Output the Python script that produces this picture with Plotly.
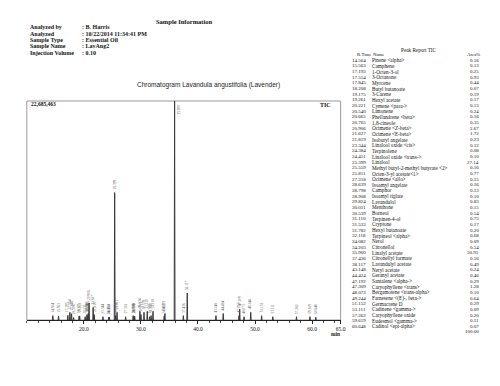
import plotly.graph_objects as go

W, H = 500, 386

# ---- data ----
rtimes = [14.564, 15.563, 17.193, 17.554, 17.845, 18.208, 19.175, 19.261, 20.221, 20.540,
          20.665, 20.765, 20.906, 21.627, 21.819, 23.344, 24.384, 24.451, 25.399, 25.559,
          25.811, 27.318, 28.639, 28.798, 28.908, 29.824, 30.011, 30.539, 31.110, 31.533,
          31.782, 32.118, 34.082, 34.203, 35.900, 37.436, 38.117, 43.148, 44.424, 47.192,
          47.309, 48.073, 49.244, 51.152, 53.111, 57.262, 59.619, 60.648]
names = ["Pinene <alpha>", "Camphene", "1-Octen-3-ol", "3-Octanone", "Myrcene", "Butyl butanoate",
         "3-Carene", "Hexyl acetate", "Cymene <para->", "Limonene", "Phellandrene <beta>", "1,8-cineole",
         "Ocimene <Z-beta>", "Ocimene <E-beta>", "Isobutyl angelate", "Linalool oxide <cis>", "Terpinolene",
         "Linalool oxide <trans->", "Linalool", "Methyl butyl-2-methyl butyrate <2>", "Octen-3-yl acetate<1>",
         "Ocimene <allo>", "Isoamyl angelate", "Camphor", "Isoamyl tiglate", "Lavandulol", "Menthone",
         "Borneol", "Terpinen-4-ol", "Cryptone", "Hexyl butanoate", "Terpineol <alpha>", "Nerol",
         "Citronellol", "Linalyl acetate", "Citronellyl formate", "Lavandulyl acetate", "Neryl acetate",
         "Geranyl acetate", "Santalene <alpha->", "Caryophyllene <trans>", "Bergamotene <trans-alpha>",
         "Farnesene <(E)-, beta->", "Germacrene D", "Cadinene <gamma->", "Caryophyllene oxide",
         "Eudesmol <gamma->", "Cadinol <epi-alpha>"]
area_pct = ["0.16", "0.13", "0.25", "0.93", "0.44", "0.07", "0.19", "0.17", "0.13", "0.24",
            "0.16", "0.35", "2.67", "1.72", "0.23", "0.12", "0.08", "0.10", "27.14", "0.16",
            "0.77", "0.15", "0.16", "0.13", "0.10", "0.83", "0.15", "0.54", "0.75", "0.17",
            "0.20", "0.68", "0.09", "0.54", "50.95", "0.16", "0.49", "0.24", "0.46", "0.29",
            "1.28", "0.10", "0.64", "0.29", "0.09", "0.20", "0.11", "0.07"]
total_pct = "100.00"
# peak heights (intensity counts)
heights = [450000, 420000, 480000, 800000, 650000, 250000, 420000, 420000, 340000, 560000,
           450000, 680000, 1770000, 1300000, 560000, 340000, 300000, 320000, 13200000, 450000,
           800000, 340000, 450000, 400000, 380000, 900000, 560000, 800000, 900000, 340000,
           450000, 900000, 420000, 680000, 22685463, 450000, 2800000, 450000, 680000, 450000,
           1130000, 340000, 800000, 450000, 340000, 340000, 340000, 280000]
y_max = 22685463
x_range = [10.0, 65.0]
tick_vals = [20, 30, 40, 50, 60, 65]
tick_text = ["20.0", "30.0", "40.0", "50.0", "60.0", "65.0"]

info_labels = ["Analyzed by", "Analyzed", "Sample Type", "Sample Name", "Injection Volume"]
info_values = [": B. Harris", ": 10/22/2014 11:34:41 PM", ": Essential Oil", ": LavAng2", ": 0.10"]

# ---- helpers (pixel -> paper) ----
def px(x):
    return x / W

def py(y):
    return (H - y) / H

L, R, T, B = 19, 336, 93, 312

# ---- peak trace ----
hw = 0.07
xs, ys = [], []
for rt, h in zip(rtimes, heights):
    xs += [rt - hw, rt, rt + hw, None]
    ys += [0, h, 0, None]

fig = go.Figure()
fig.add_trace(go.Scatter(x=xs, y=ys, mode="lines", line=dict(color="#3a3a3a", width=1),
                         hoverinfo="skip", showlegend=False))

serif = "Liberation Serif"
ann = []
# peak labels
for rt, h in zip(rtimes, heights):
    if h >= y_max * 0.95:
        ann.append(dict(x=rt, y=y_max, xref="x", yref="y", text=f"{rt:.3f}", textangle=-90,
                        showarrow=False, xanchor="left", yanchor="top", xshift=0, yshift=-2,
                        font=dict(family=serif, size=3.5, color="#555")))
    else:
        ann.append(dict(x=rt, y=h, xref="x", yref="y", text=f"{rt:.3f}", textangle=-90,
                        showarrow=False, xanchor="center", yanchor="bottom", yshift=1,
                        font=dict(family=serif, size=3.5, color="#555")))

# header
ann.append(dict(x=px(178), y=py(13), xref="paper", yref="paper", text="<b>Sample Information</b>",
                showarrow=False, xanchor="center", yanchor="middle",
                font=dict(family=serif, size=6.5, color="#111")))
for i, (lab, val) in enumerate(zip(info_labels, info_values)):
    yy = 19.5 + i * 6.3
    ann.append(dict(x=px(20), y=py(yy), xref="paper", yref="paper", text=f"<b>{lab}</b>",
                    showarrow=False, xanchor="left", yanchor="middle",
                    font=dict(family=serif, size=6, color="#111")))
    ann.append(dict(x=px(73), y=py(yy), xref="paper", yref="paper", text=f"<b>{val}</b>",
                    showarrow=False, xanchor="left", yanchor="middle",
                    font=dict(family=serif, size=6, color="#111")))

# chart title
ann.append(dict(x=px(203), y=py(77), xref="paper", yref="paper",
                text="Chromatogram Lavandula angustifolia (Lavender)",
                showarrow=False, xanchor="center", yanchor="middle",
                font=dict(family="Liberation Sans", size=6.5, color="#222")))
ann.append(dict(x=px(21), y=py(96), xref="paper", yref="paper", text="<b>22,685,463</b>",
                showarrow=False, xanchor="left", yanchor="middle",
                font=dict(family=serif, size=5.5, color="#111")))
ann.append(dict(x=px(328), y=py(97), xref="paper", yref="paper", text="<b>TIC</b>",
                showarrow=False, xanchor="right", yanchor="middle",
                font=dict(family=serif, size=6, color="#111")))
ann.append(dict(x=px(337), y=py(326), xref="paper", yref="paper", text="<b>min</b>",
                showarrow=False, xanchor="right", yanchor="middle",
                font=dict(family=serif, size=5.3, color="#111")))

# peak report table
tfont = dict(family=serif, size=5.2, color="#111")
nfont = dict(family=serif, size=5.0, color="#111")
hfont = dict(family=serif, size=4.8, color="#111")
ann.append(dict(x=px(415), y=py(42), xref="paper", yref="paper", text="Peak Report TIC",
                showarrow=False, xanchor="center", yanchor="middle", font=tfont))
ann.append(dict(x=px(350), y=py(47), xref="paper", yref="paper", text="R.Time",
                showarrow=False, xanchor="left", yanchor="middle", font=hfont))
ann.append(dict(x=px(367), y=py(47), xref="paper", yref="paper", text="Name",
                showarrow=False, xanchor="left", yanchor="middle", font=hfont))
ann.append(dict(x=px(479), y=py(47), xref="paper", yref="paper", text="Area%",
                showarrow=False, xanchor="right", yanchor="middle", font=hfont))
row0, dy = 52.3, 5.66
for i, (rt, nm, ap) in enumerate(zip(rtimes, names, area_pct)):
    yy = row0 + i * dy
    ann.append(dict(x=px(364), y=py(yy), xref="paper", yref="paper", text=f"{rt:.3f}",
                    showarrow=False, xanchor="right", yanchor="middle", font=nfont))
    ann.append(dict(x=px(366), y=py(yy), xref="paper", yref="paper",
                    text=nm.replace("<", "&lt;").replace(">", "&gt;"),
                    showarrow=False, xanchor="left", yanchor="middle", font=tfont))
    ann.append(dict(x=px(478), y=py(yy), xref="paper", yref="paper", text=ap,
                    showarrow=False, xanchor="right", yanchor="middle", font=nfont))
ann.append(dict(x=px(478), y=py(row0 + len(rtimes) * dy), xref="paper", yref="paper", text=total_pct,
                showarrow=False, xanchor="right", yanchor="middle", font=nfont))

shapes = [dict(type="rect", xref="paper", yref="paper", x0=px(L), x1=px(R), y0=py(B), y1=py(T),
               line=dict(color="#9a9a9a", width=1), fillcolor="rgba(0,0,0,0)", layer="below")]

fig.update_layout(
    width=W, height=H, margin=dict(l=0, r=0, t=0, b=0),
    paper_bgcolor="white", plot_bgcolor="white",
    annotations=ann, shapes=shapes, showlegend=False,
    xaxis=dict(domain=[px(L), px(R)], range=x_range, tickvals=tick_vals, ticktext=tick_text,
               showgrid=False, zeroline=False, showline=True, linecolor="#222", linewidth=1,
               ticks="outside", ticklen=3, tickcolor="#222", tickwidth=1,
               tickfont=dict(family=serif, size=5.5, color="#111"),
               minor=dict(dtick=2, ticks="outside", ticklen=2, tickcolor="#444", tick0=0),
               tickprefix="<b>", ticksuffix="</b>"),
    yaxis=dict(domain=[py(B), py(T)], range=[0, y_max], showgrid=False, zeroline=False,
               showticklabels=False, showline=False, ticks=""),
)

fig.write_html("out.html")
